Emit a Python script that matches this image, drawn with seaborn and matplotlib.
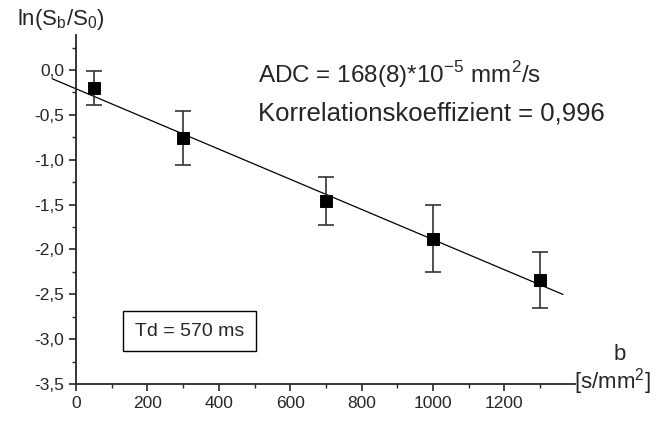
import numpy as np
import pandas as pd
import seaborn as sns
import matplotlib
matplotlib.use("Agg")
import matplotlib.pyplot as plt
from matplotlib.ticker import MultipleLocator, FuncFormatter

# measured points
b_values = [50, 300, 700, 1000, 1300]
ln_ratio = [-0.20, -0.76, -1.46, -1.88, -2.34]
ln_err = [0.19, 0.30, 0.27, 0.37, 0.31]

# linear fit shown on the chart
fit_intercept = -0.21
fit_slope = -0.00168
fit_b_range = [-67, 1364]

sns.set_style("ticks")
plt.rcParams['font.family'] = ['Liberation Sans', 'DejaVu Sans']

df = pd.DataFrame({"b": b_values, "ln": ln_ratio, "err": ln_err})
df_fit = pd.DataFrame({"b": fit_b_range})
df_fit["ln"] = fit_intercept + fit_slope * df_fit["b"]

fig = plt.figure(figsize=(6.71, 4.24), dpi=100)
ax = fig.add_axes([0.1133, 0.0943, 0.7437, 0.8232])

sns.lineplot(data=df_fit, x="b", y="ln", ax=ax, color="black", lw=0.9)
ax.lines[-1].set_clip_on(False)
ax.errorbar(df["b"], df["ln"], yerr=df["err"], fmt="none", ecolor="#333333",
            elinewidth=1.2, capsize=6, capthick=1.2)
sns.scatterplot(data=df, x="b", y="ln", ax=ax, marker="s", s=70, color="black",
                edgecolor="black", zorder=5)

ax.set_xlim(0, 1398)
ax.set_ylim(-3.5, 0.39)
ax.xaxis.set_major_locator(MultipleLocator(200))
ax.xaxis.set_minor_locator(MultipleLocator(100))
ax.yaxis.set_major_locator(MultipleLocator(0.5))
ax.yaxis.set_minor_locator(MultipleLocator(0.25))
ax.yaxis.set_major_formatter(FuncFormatter(lambda v, p: "{:.1f}".format(v).replace(".", ",")))
ax.tick_params(which="major", length=5, width=1.2, labelsize=12.5, direction="out")
ax.tick_params(which="minor", length=3, width=1.0, direction="out")
for s in ["left", "bottom"]:
    ax.spines[s].set_linewidth(1.3)
sns.despine(ax=ax)
ax.set_xlabel("")
ax.set_ylabel("")

fig.text(0.025, 0.953, r"ln(S$_\mathregular{b}$/S$_\mathregular{0}$)", fontsize=16, va="center")
fig.text(0.924, 0.163, "b", fontsize=16, ha="center", va="center")
fig.text(0.913, 0.1, r"[s/mm$^\mathregular{2}$]", fontsize=16, ha="center", va="center")

ax.text(0.385, 0.823, r"ADC = 168(8)*10$^\mathregular{-5}$ mm$^\mathregular{2}$/s", fontsize=17.5,
        transform=fig.transFigure, va="center")
ax.text(0.385, 0.733, "Korrelationskoeffizient = 0,996", fontsize=18.5,
        transform=fig.transFigure, va="center")
ax.text(0.282, 0.219, "Td = 570 ms", fontsize=14, transform=fig.transFigure,
        ha="center", va="center",
        bbox=dict(boxstyle="square,pad=0.6", facecolor="white", edgecolor="black", lw=1))

fig.savefig("out.png", dpi=100)
